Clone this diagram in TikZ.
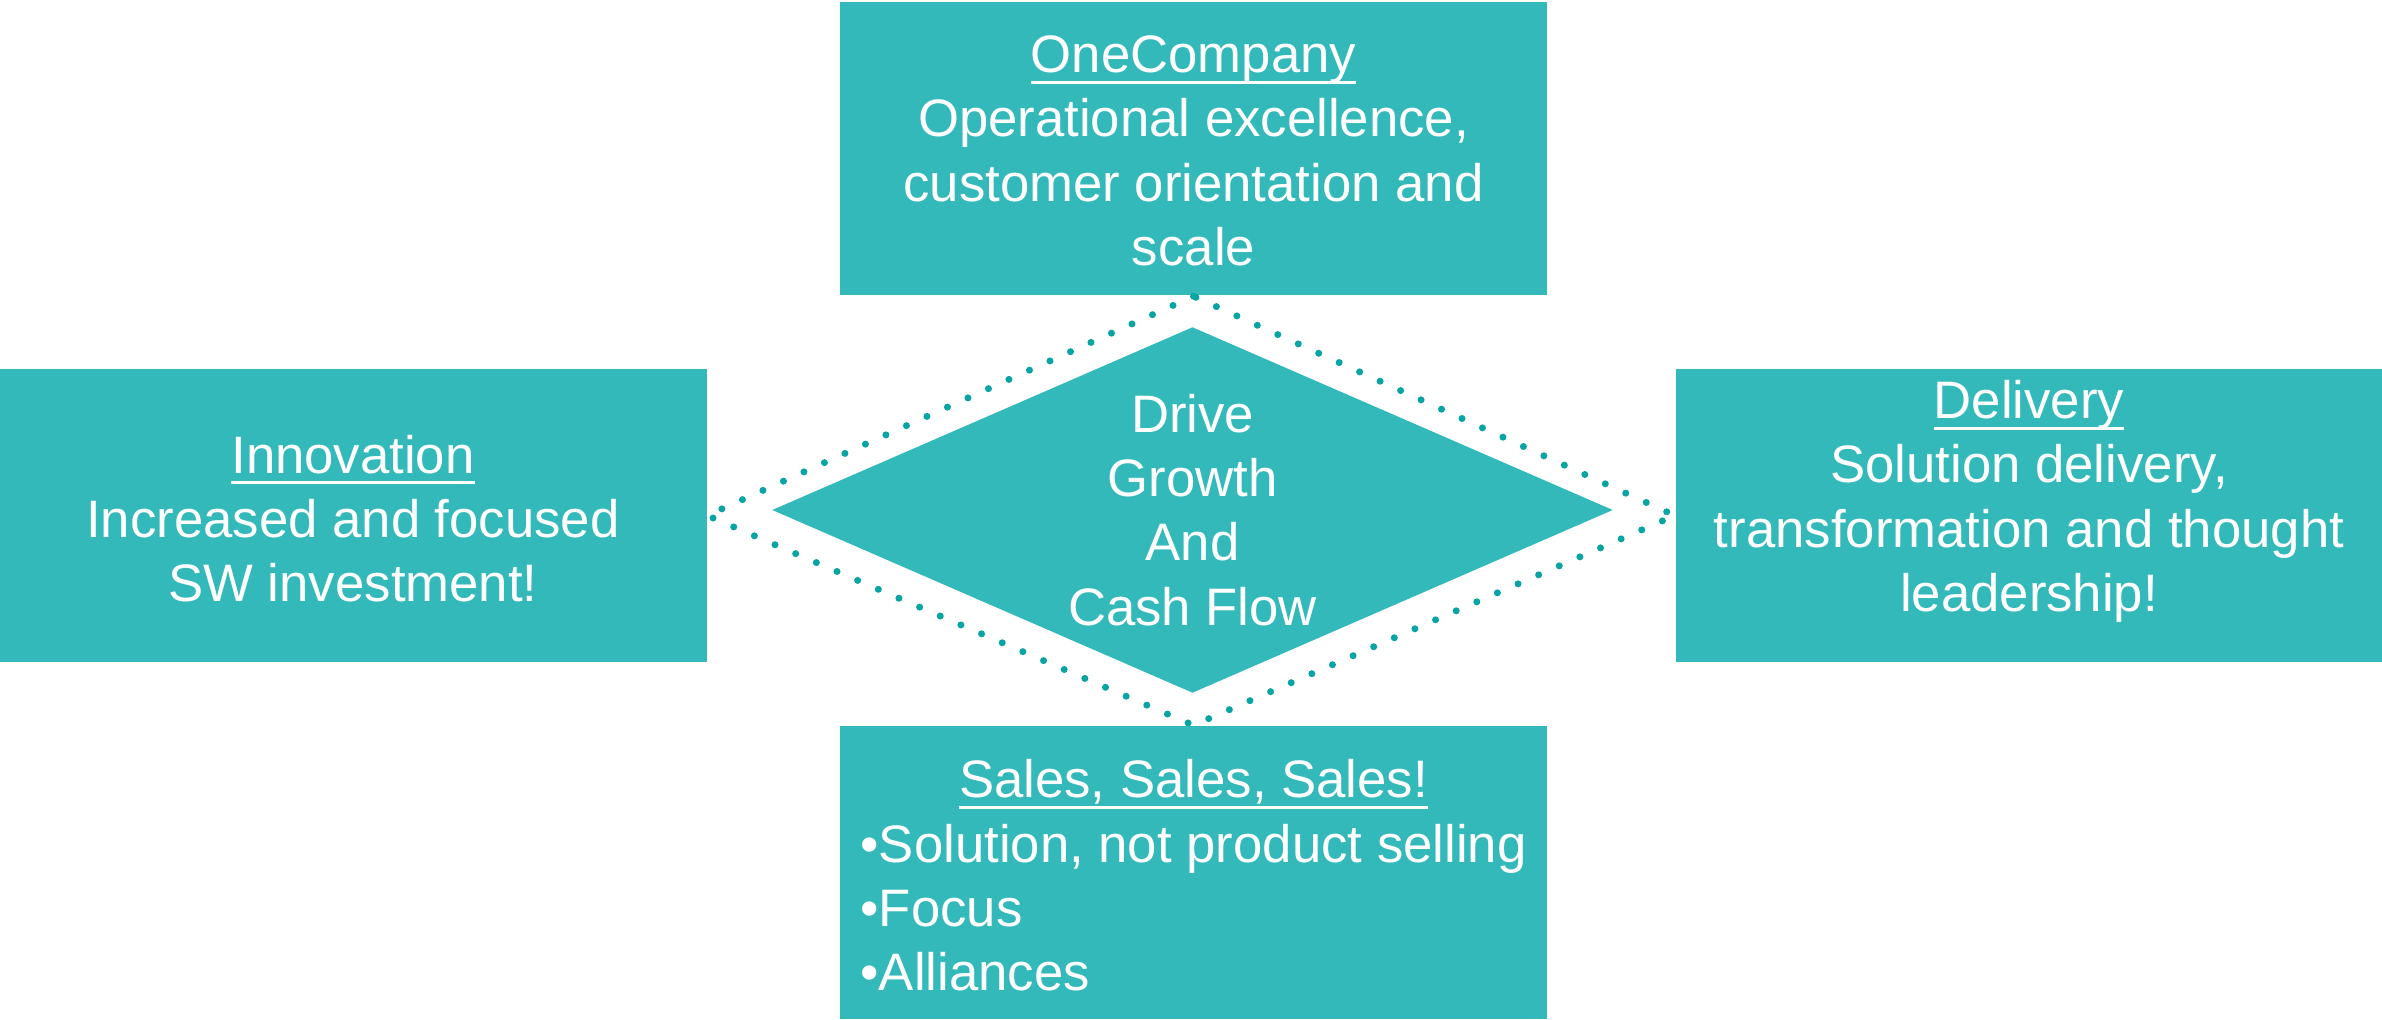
\documentclass[tikz,border=0pt]{standalone}
\usepackage{fontspec}
\setmainfont{Liberation Sans}
\usetikzlibrary{shapes.geometric}

\definecolor{boxteal}{RGB}{52,185,186}
\definecolor{dotteal}{RGB}{8,163,163}

% underline at the descender line
\newlength{\ulwd}
\newcommand{\ulword}[1]{\settowidth{\ulwd}{#1}\makebox[0pt][l]{\rule[-3.2pt]{\ulwd}{0.8pt}}#1}

\tikzset{
    tealbox/.style={fill=boxteal, inner sep=0pt, minimum width=7.07cm, minimum height=2.93cm},
    boxtext/.style={text=white, align=center, inner sep=0pt, font=\fontsize{15}{18.3}\selectfont},
    dotline/.style={draw=dotteal, line width=2pt, line cap=round, dash pattern=on 0pt off 6.4pt}
}

\begin{document}
\begin{tikzpicture}
            \useasboundingbox (0, 0) rectangle (23.82, 10.19);

            %%%%%%%%
            % boxes
            %%%%%%%%

            % draw the four boxes
            \node[tealbox] (onecompany) at (11.935, 8.70) {};
            \node[tealbox] (innovation) at (3.53, 5.035) {};
            \node[tealbox] (delivery) at (20.29, 5.035) {};
            \node[tealbox] (sales) at (11.935, 1.465) {};

            % draw box texts
            \node[boxtext] (onecompany-text) at ([yshift=-0.02cm]onecompany.center) {\ulword{OneCompany}\\Operational excellence,\\customer orientation and\\scale};
            \node[boxtext] (innovation-text) at ([yshift=-0.03cm]innovation.center) {\ulword{Innovation}\\Increased and focused\\SW investment!};
            \node[boxtext] (delivery-text) at ([yshift=0.14cm]delivery.center) {\ulword{Delivery}\\Solution delivery,\\transformation and thought\\leadership!};
            \node[boxtext] (sales-text) at ([yshift=-0.09cm]sales.center) {\begin{tabular}{@{}l@{}}
                \multicolumn{1}{@{}c@{}}{\ulword{Sales, Sales, Sales!}}\\
                •Solution, not product selling\\
                •Focus\\
                •Alliances
            \end{tabular}};

            %%%%%%%%
            % centre
            %%%%%%%%

            % draw dotted diamond between the boxes
            \draw[dotline] (onecompany.south) -- (innovation.east) -- (sales.north) -- (delivery.west) -- cycle;

            % draw filled diamond
            \node[diamond, fill=boxteal, inner sep=0pt, minimum width=8.41cm, minimum height=3.66cm] (growth) at (11.925, 5.09) {};
            \node[boxtext] (growth-text) at (growth.center) {Drive\\Growth\\And\\Cash Flow};
\end{tikzpicture}
\end{document}
